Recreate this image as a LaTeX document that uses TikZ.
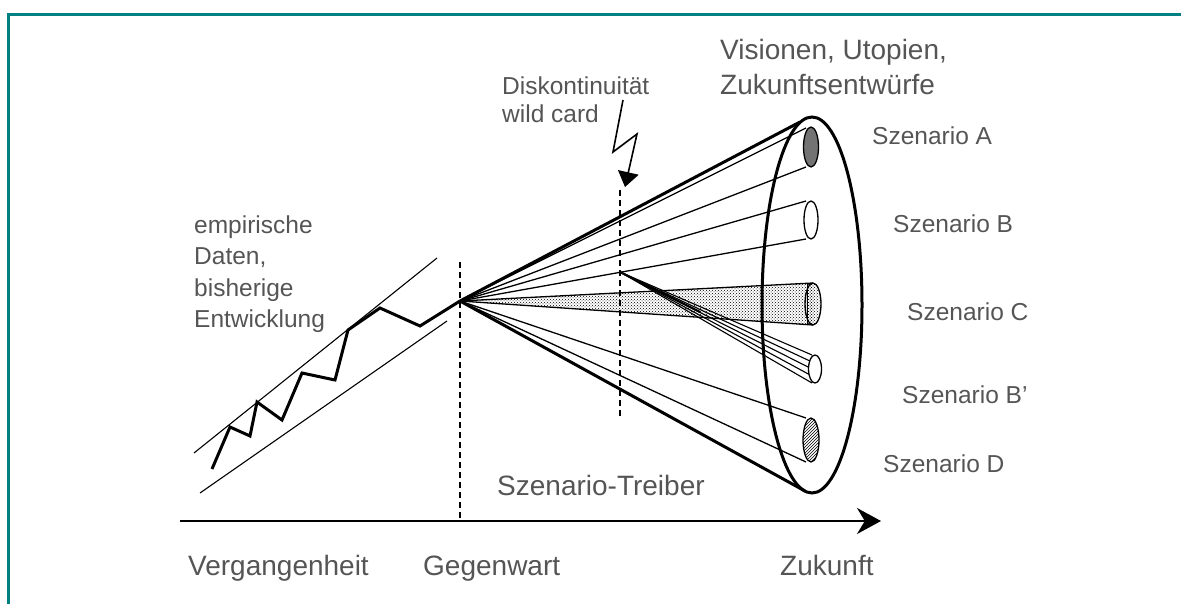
\documentclass[tikz,border=0pt]{standalone}
\usepackage{fontspec}
\setmainfont{Liberation Sans}
\usetikzlibrary{arrows.meta,patterns}
\definecolor{frameteal}{RGB}{0,128,128}
\definecolor{txtgray}{RGB}{85,85,85}
\definecolor{tubegray}{RGB}{115,115,115}
\tikzset{
  ray/.style={line width=1.3pt},
  coneedge/.style={line width=3pt},
  thinline/.style={line width=1.1pt},
  dashv/.style={line width=1.4pt, dash pattern=on 6pt off 4pt},
  lbl/.style={text=txtgray, inner sep=0pt, anchor=base west, font=\fontsize{24.5}{30}\selectfont},
  biglbl/.style={lbl, font=\fontsize{28}{34}\selectfont},
}
\begin{document}
\begin{tikzpicture}[x=1pt,y=-1pt]
\useasboundingbox (0,0) rectangle (1181,604);
% frame
\draw[frameteal, line width=3pt] (8.5,604) -- (8.5,14.5) -- (1181,14.5);

% key points
\coordinate (apex) at (460,301);
\coordinate (etop) at (800,122);
\coordinate (ebot) at (805,491);
\coordinate (at) at (806,128);  \coordinate (ab) at (806,167);
\coordinate (bt) at (806,201);  \coordinate (bb) at (806,239);
\coordinate (ct) at (813,283);  \coordinate (cb) at (813,325);
\coordinate (dt) at (806,418);  \coordinate (db) at (806,462);
\coordinate (brk) at (620,272);
\coordinate (g1) at (460,262);  \coordinate (g2) at (460,521);
\coordinate (w1) at (620,190);  \coordinate (w2) at (620,417);
\coordinate (ax0) at (180,521); \coordinate (ax1) at (881,521);

% trend channel
\draw[thinline] (194,453) -- (437,258);
\draw[thinline] (200,493) -- (447,321);
% empirical data zigzag
\draw[line width=3pt, line join=miter] (212,469) -- (230,427) -- (250,436) -- (257,402) -- (282,420) -- (302,373) -- (335,380) -- (348,330) -- (380,308) -- (420,326) -- (apex);

% dashed lines
\draw[dashv] (g1) -- (g2);
\draw[dashv] (w1) -- (w2);

% lightning (wild card)
\draw[line width=1.6pt, line join=miter, -{Triangle[length=15pt,width=21pt]}] (623,100) -- (613,152) -- (637,134) -- (625,187);

% rays
\draw[ray] (apex) -- (at);
\draw[ray] (apex) -- (ab);
\draw[ray] (apex) -- (bt);
\draw[ray] (apex) -- (bb);
\draw[ray] (apex) -- (dt);
\draw[ray] (apex) -- (db);

% scenario C cone (dotted)
\fill[pattern=crosshatch dots] (apex) -- (ct) -- (cb) -- cycle;
\draw[ray] (apex) -- (ct);
\draw[ray] (apex) -- (cb);
\filldraw[pattern=crosshatch dots, line width=1.3pt] (813,304) ellipse [x radius=8pt, y radius=21pt];
\draw[line width=1pt] (807,284) -- (807,324);

% scenario B' band (lines)
\foreach \yy in {355,362,369,376,383}{
  \draw[line width=1.1pt] (brk) -- (812,\yy);
}
\draw[line width=2.2pt] (brk) -- (700,312);

% tubes
\filldraw[fill=tubegray, line width=1.3pt] (811,147) ellipse [x radius=7.5pt, y radius=20pt];
\filldraw[fill=white, line width=1.3pt] (811,220) ellipse [x radius=7pt, y radius=19pt];
\filldraw[fill=white, line width=1.3pt] (815,369) ellipse [x radius=6.5pt, y radius=14pt];
\filldraw[fill=white, line width=1.3pt] (811,440) ellipse [x radius=8pt, y radius=22pt];
\fill[pattern=north east lines] (811,440) ellipse [x radius=8pt, y radius=22pt];

% big ellipse and cone edges
\draw[line width=3pt] (812,305) ellipse [x radius=50pt, y radius=188pt];
\draw[coneedge] (apex) -- (etop);
\draw[coneedge] (apex) -- (ebot);

% time axis
\draw[line width=2pt, -{Stealth[length=24pt,width=26pt]}] (ax0) -- (ax1);

% labels
\node[biglbl] (vis1) at (720,60) {Visionen, Utopien,};
\node[biglbl] (vis2) at (720,95) {Zukunftsentwürfe};
\node[lbl] (disk1) at (502,95) {Diskontinuität};
\node[lbl] (disk2) at (502,123) {wild card};
\node[lbl] (sa) at (872,145) {Szenario A};
\node[lbl] (sb) at (893,233) {Szenario B};
\node[lbl] (sc) at (907,320) {Szenario C};
\node[lbl] (sb2) at (902,403) {Szenario B'};
\node[lbl] (sd) at (883,472) {Szenario D};
\node[lbl] (emp1) at (194,234) {empirische};
\node[lbl] (emp2) at (194,265) {Daten,};
\node[lbl] (emp3) at (194,296) {bisherige};
\node[lbl] (emp4) at (194,327) {Entwicklung};
\node[biglbl] (treiber) at (497,495) {Szenario-Treiber};
\node[biglbl] (verg) at (188,575) {Vergangenheit};
\node[biglbl] (gegen) at (423,575) {Gegenwart};
\node[biglbl] (zuk) at (780,575) {Zukunft};
\end{tikzpicture}
\end{document}
